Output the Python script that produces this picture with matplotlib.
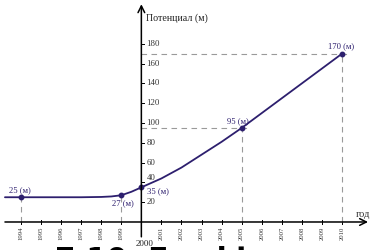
import matplotlib
matplotlib.use("Agg")
import matplotlib.pyplot as plt

plt.rcParams['font.family'] = ['Liberation Serif', 'DejaVu Serif']

# ---- data ----
years_pts = [1994, 1999, 2000, 2005, 2010]
vals_pts = [25, 27, 35, 95, 170]
pt_labels = ['25 (м)', '27 (м)', '35 (м)', '95 (м)', '170 (м)']
curve_years = [1993.2, 1994, 1995, 1996, 1997, 1998, 1998.5, 1999, 1999.5,
               2000, 2000.5, 2001, 2002, 2003, 2004, 2005, 2010]
curve_vals = [25, 25, 25, 25, 25, 25.3, 25.8, 27, 30.5,
              35, 39.5, 44, 55, 68, 81, 95, 170]
year_ticks = list(range(1994, 2011))
y_ticks = [20, 40, 60, 80, 100, 120, 140, 160, 180]
y_title = 'Потенциал (м)'
x_title = 'год'
caption_a = 'Рис.'
caption_b = '7.10. Графік потенціалу'

LINE = '#2d1f6e'
GRAY = '#9a9a9a'

fig = plt.figure(figsize=(3.71, 2.51), dpi=100)
ax = fig.add_axes([0, 0, 1, 1])
ax.set_xlim(1992.953, 2011.448)
ax.set_ylim(-28.3, 225.3)
ax.axis('off')

# axes with arrows
ax.annotate('', xy=(2011.3, 0), xytext=(1993.2, 0),
            arrowprops=dict(arrowstyle='->', lw=1.1, color='black',
                            shrinkA=0, shrinkB=0, mutation_scale=12))
ax.annotate('', xy=(2000, 220), xytext=(2000, -15),
            arrowprops=dict(arrowstyle='->', lw=1.1, color='black',
                            shrinkA=0, shrinkB=0, mutation_scale=12))

# x ticks and labels
for yr in year_ticks:
    ax.plot([yr, yr], [-2, 2], color='black', lw=0.7)
    if yr != 2000:
        ax.text(yr, -4, str(yr), rotation=90, ha='center', va='top',
                fontsize=4.8, color='#333333')
ax.text(2000.15, -17, '2000', ha='center', va='top', fontsize=6.5, color='#222222')
ax.text(2010.7, 4, x_title, ha='left', va='bottom', fontsize=7.5, color='#333333')

# y ticks and labels
for v in y_ticks:
    ax.plot([2000, 2000.15], [v, v], color='black', lw=0.7)
    off = 5 if v == 40 else 1
    ax.text(2000.25, v + off, str(v), ha='left', va='center', fontsize=6.3,
            color='#333333')
ax.text(2000.25, 207, y_title, ha='left', va='center', fontsize=7.2,
        color='#222222')

# dashed guides
dash = dict(color=GRAY, lw=0.8, ls=(0, (5, 4)))
ax.plot([2000, 2010.25], [170, 170], **dash)
ax.plot([2010, 2010], [0, 170], **dash)
ax.plot([2000, 2005.3], [95, 95], **dash)
ax.plot([2005, 2005], [0, 95], **dash)
ax.plot([1994, 1994], [0, 25], **dash)
ax.plot([1999, 1999], [0, 27], **dash)

# curve and points
ax.plot(curve_years, curve_vals, color=LINE, lw=1.3, solid_capstyle='round')
ax.plot(years_pts, vals_pts, 'o', color=LINE, ms=3.2)

offsets = [(-0.05, 4, 'center', 'bottom'), (0.1, -3, 'center', 'top'),
           (0.3, -3, 'left', 'center'), (-0.2, 4, 'center', 'bottom'),
           (-0.05, 5, 'center', 'bottom')]
for x, y, lab, (dx, dy, ha, va) in zip(years_pts, vals_pts, pt_labels, offsets):
    ax.text(x + dx, y + dy, lab, ha=ha, va=va, fontsize=6.2, color=LINE)

# cropped caption (only its top edge shows, as in the reference)
fig.text(45 / 371, 1 - 246 / 251, caption_a, ha='right', va='top', fontsize=21,
         fontweight='bold', family='DejaVu Sans', color='black')
fig.text(55 / 371, 1 - 246 / 251, caption_b, ha='left', va='top', fontsize=21,
         fontweight='bold', family='DejaVu Sans', color='black')

fig.savefig('out.png', dpi=100)
